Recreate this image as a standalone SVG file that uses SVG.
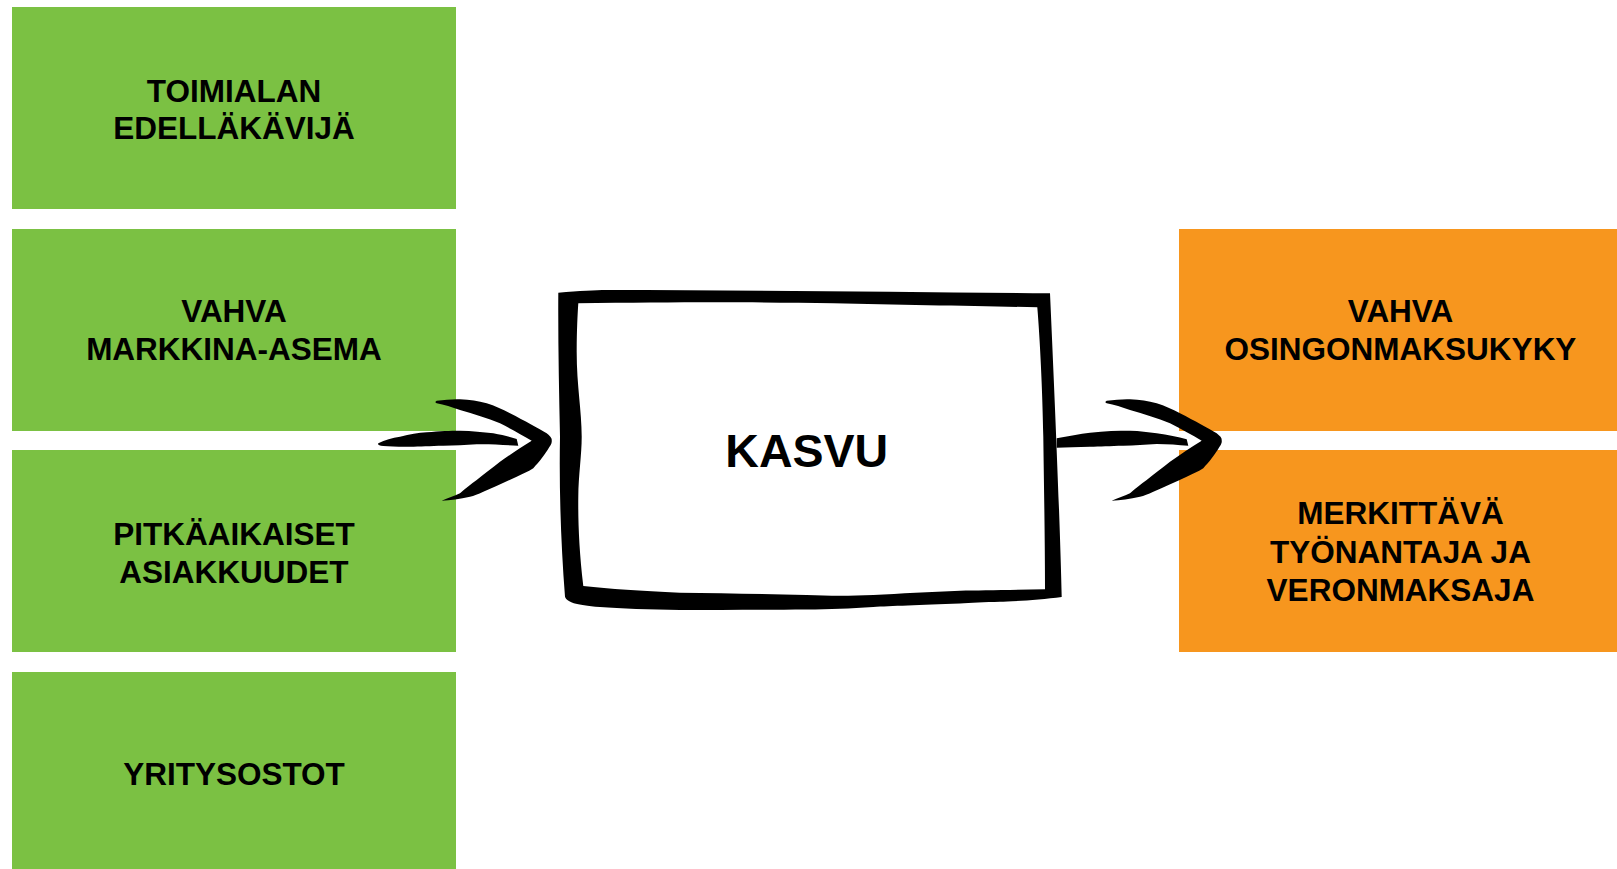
<svg xmlns="http://www.w3.org/2000/svg" width="1617" height="869" viewBox="0 0 1617 869">
<style>
.g{fill:#7BC143}
.o{fill:#F7961E}
.t{font-family:"Liberation Sans",Arial,sans-serif;font-weight:bold;font-size:31.5px;fill:#000;text-anchor:middle}
.k{font-family:"Liberation Sans",Arial,sans-serif;font-weight:bold;font-size:46.5px;fill:#000;text-anchor:middle}
.ink{fill:#000}
</style>
<rect width="1617" height="869" fill="#fff"/>
<g id="n1"><rect class="g" x="12" y="7" width="444" height="202"/><text class="t" x="234" y="101.7">TOIMIALAN</text><text class="t" x="234" y="139.3">EDELLÄKÄVIJÄ</text></g>
<g id="n2"><rect class="g" x="12" y="229" width="444" height="202"/><text class="t" x="234" y="322">VAHVA</text><text class="t" x="234" y="360">MARKKINA-ASEMA</text></g>
<g id="n3"><rect class="g" x="12" y="450" width="444" height="202"/><text class="t" x="234" y="545">PITKÄAIKAISET</text><text class="t" x="234" y="583.3">ASIAKKUUDET</text></g>
<g id="n4"><rect class="g" x="12" y="672" width="444" height="197"/><text class="t" x="234" y="785">YRITYSOSTOT</text></g>
<g id="o1"><rect class="o" x="1179" y="229" width="438" height="202"/><text class="t" x="1400.5" y="321.7">VAHVA</text><text class="t" x="1400.5" y="360">OSINGONMAKSUKYKY</text></g>
<g id="o2"><rect class="o" x="1179" y="450" width="438" height="202"/><text class="t" x="1400.5" y="524.3">MERKITTÄVÄ</text><text class="t" x="1400.5" y="562.7">TYÖNANTAJA JA</text><text class="t" x="1400.5" y="601">VERONMAKSAJA</text></g>
<g id="kasvu">
<path class="ink" d="M558.3,292.7 C580,291 595,290 606.7,290 C750,290 900,292 1050,293.3 C1054,380 1060,520 1061.7,597 C1040,600 1010,601.5 1000,601.7 C985,602 970,603 960,603.5 C920,605 890,606 873.3,607 C850,608.5 830,609.3 806.7,609.5 C760,610 720,610 680,610 C650,609.5 620,608.5 600,607 C575,605 567,602 565,596.7 C561,545 559,490 560,436.7 C559,390 558,340 558.3,292.7 Z"/>
<path fill="#fff" d="M578.3,303.3 C680,302 760,302 833.3,303.3 C900,305 980,306 1037.3,307.3 C1040,340 1042.5,390 1043.3,436.7 C1044,490 1045,540 1045,589.3 C1010,590 980,590.5 960,590.7 C930,592 900,593.5 873.3,595 C850,596 830,596 806.7,595 C760,594 720,593 680,592.7 C640,591 610,589 583.3,586 C579,550 578,520 578.3,496.7 C578.5,475 581.7,455 581.7,436.7 C581.7,410 576.5,385 576.7,350 C576.8,330 577.5,315 578.3,303.3 Z"/>
<text class="k" x="806.7" y="466.7">KASVU</text>
</g>
<g id="connectors">
<defs>
<path id="chev" class="ink" d="M436.7,400.7 C445,400 452,399 460,399.3 C470,399.5 478,401 486.7,403.3 C495,406 502,409 510,413.3 C525,421 538,428 546.7,433.3 C550,436 552,438 551.7,440 C552,442 551.5,443.5 550.7,445 C547,451 545,454 541.7,458.3 C539,462 536,465 533.3,468.3 C528,472 522,474 516.7,476.7 C505,482 494,487 483.3,491.7 C478,494 474,496 470,496.7 C460,499 450,500.5 441.7,500.7 C448,498 454,496 460,493.3 C466,488 471,484 476.7,480 C484,474 492,468 500,461.7 C510,455 521,447 531.7,440.7 C522,435 511,429 500,423.3 C487,418 474,414 460,410 C452,407 444,405 436.7,403.3 C435,402.5 435,401.5 436.7,400.7 Z"/>
</defs>
<path class="ink" d="M378.3,443.3 C385,440 392,438 400,436.7 C410,434 418,433 426.7,432.3 C440,431 450,430.7 460,430.7 C472,431 483,432 493.3,433.3 C503,435 510,437 516.7,439 L518.3,445.7 C505,445 490,444 476.7,444.3 C465,445 455,445.5 443.3,445.7 C430,446 420,446.5 410,446.7 C398,446.8 390,446.5 383.3,446 C379,445.5 377.5,444.5 378.3,443.3 Z"/>
<use href="#chev"/>
<path class="ink" d="M1056.7,438.3 C1068,436 1080,434 1090,432.7 C1105,431 1118,430.7 1130,430.7 C1140,431 1148,432 1156.7,433.3 C1168,435 1178,437 1186.7,439.3 L1188.3,445.7 C1178,445 1168,444 1156.7,444 C1145,444.5 1135,445.5 1123.3,445.7 C1110,446 1100,446.5 1090,446.7 C1078,447 1066,447.5 1056.7,447.7 Z"/>
<use href="#chev" transform="translate(670,0)"/>
</g>
</svg>
